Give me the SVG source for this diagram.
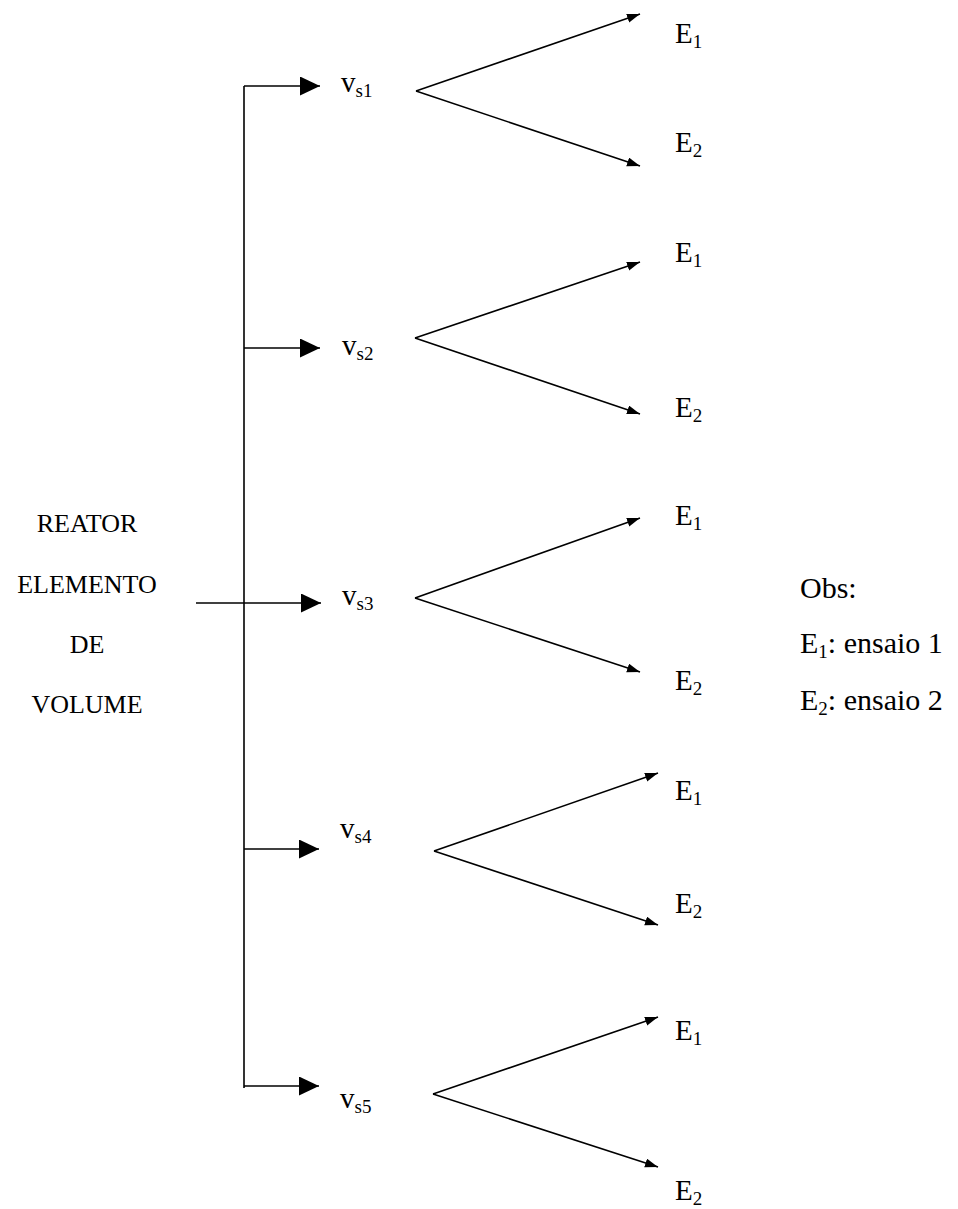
<svg xmlns="http://www.w3.org/2000/svg" width="958" height="1209" viewBox="0 0 958 1209">
<style>
text{font-family:"Liberation Serif","Times New Roman",serif;fill:#000}
.big{font-size:29px}
.obs{font-size:30px}
.sub{font-size:19px}
.lbl{font-size:26px;text-anchor:middle}
.ln{stroke:#000;stroke-width:1.6;fill:none}
.br{marker-end:url(#bigArrow)}
.fk{marker-end:url(#smallArrow)}
</style>
<defs>
<marker id="bigArrow" markerUnits="userSpaceOnUse" markerWidth="21" markerHeight="20" refX="20" refY="9.5" orient="auto"><path d="M0,0 L20,9.5 L0,19 z" fill="#000"/></marker>
<marker id="smallArrow" markerUnits="userSpaceOnUse" markerWidth="14" markerHeight="10" refX="13" refY="4.5" orient="auto"><path d="M0,0 L13,4.5 L0,9 z" fill="#000"/></marker>
</defs>
<rect width="958" height="1209" fill="#fff"/>
<g id="connectors">
<line class="ln" x1="244" y1="86" x2="244" y2="1088"/>
<line class="ln br" x1="244" y1="86" x2="320" y2="86"/>
<line class="ln br" x1="244" y1="348" x2="320" y2="348"/>
<line class="ln br" x1="196" y1="603" x2="321" y2="603"/>
<line class="ln br" x1="244" y1="849" x2="319" y2="849"/>
<line class="ln br" x1="244" y1="1086" x2="319" y2="1086"/>
<line class="ln fk" x1="416" y1="91" x2="640" y2="14"/>
<line class="ln fk" x1="416" y1="91" x2="640" y2="166"/>
<line class="ln fk" x1="415" y1="338" x2="640" y2="262"/>
<line class="ln fk" x1="415" y1="338" x2="640" y2="414"/>
<line class="ln fk" x1="415" y1="598" x2="640" y2="518"/>
<line class="ln fk" x1="415" y1="598" x2="640" y2="672"/>
<line class="ln fk" x1="434" y1="851" x2="658" y2="773"/>
<line class="ln fk" x1="434" y1="851" x2="658" y2="925"/>
<line class="ln fk" x1="433" y1="1094" x2="658" y2="1017"/>
<line class="ln fk" x1="433" y1="1094" x2="658" y2="1167"/>
</g>
<g id="reator">
<text class="lbl" x="87" y="532">REATOR</text>
<text class="lbl" x="87" y="593">ELEMENTO</text>
<text class="lbl" x="87" y="653">DE</text>
<text class="lbl" x="87" y="713">VOLUME</text>
</g>
<g id="vs1"><text class="big" x="341" y="92">v<tspan class="sub" dy="5">s1</tspan></text></g>
<g id="vs2"><text class="big" x="342" y="355">v<tspan class="sub" dy="5">s2</tspan></text></g>
<g id="vs3"><text class="big" x="342" y="605">v<tspan class="sub" dy="5">s3</tspan></text></g>
<g id="vs4"><text class="big" x="340" y="838">v<tspan class="sub" dy="5">s4</tspan></text></g>
<g id="vs5"><text class="big" x="340" y="1108">v<tspan class="sub" dy="5">s5</tspan></text></g>
<g id="e1-1"><text class="big" x="675" y="43">E<tspan class="sub" dy="5">1</tspan></text></g>
<g id="e2-1"><text class="big" x="675" y="152">E<tspan class="sub" dy="5">2</tspan></text></g>
<g id="e1-2"><text class="big" x="675" y="262">E<tspan class="sub" dy="5">1</tspan></text></g>
<g id="e2-2"><text class="big" x="675" y="417">E<tspan class="sub" dy="5">2</tspan></text></g>
<g id="e1-3"><text class="big" x="675" y="525">E<tspan class="sub" dy="5">1</tspan></text></g>
<g id="e2-3"><text class="big" x="675" y="690">E<tspan class="sub" dy="5">2</tspan></text></g>
<g id="e1-4"><text class="big" x="675" y="800">E<tspan class="sub" dy="5">1</tspan></text></g>
<g id="e2-4"><text class="big" x="675" y="913">E<tspan class="sub" dy="5">2</tspan></text></g>
<g id="e1-5"><text class="big" x="675" y="1040">E<tspan class="sub" dy="5">1</tspan></text></g>
<g id="e2-5"><text class="big" x="675" y="1200">E<tspan class="sub" dy="5">2</tspan></text></g>
<g id="obs">
<text class="obs" x="800" y="598">Obs:</text>
<text class="obs" x="800" y="653">E<tspan class="sub" dy="5">1</tspan><tspan dy="-5">: ensaio 1</tspan></text>
<text class="obs" x="800" y="710">E<tspan class="sub" dy="5">2</tspan><tspan dy="-5">: ensaio 2</tspan></text>
</g>
</svg>
